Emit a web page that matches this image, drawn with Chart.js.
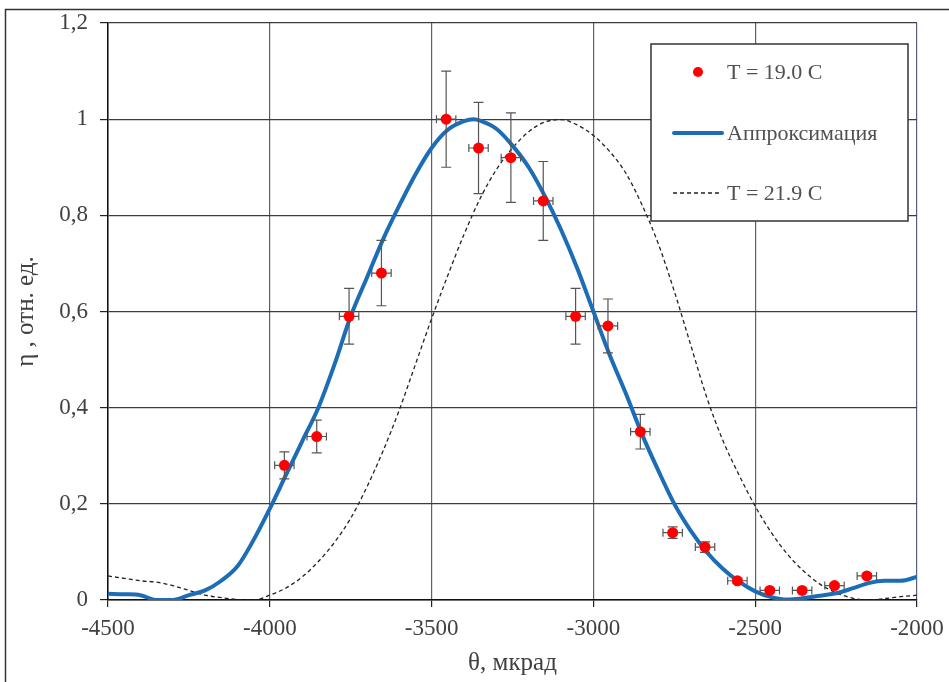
<!DOCTYPE html>
<html>
<head>
<meta charset="utf-8">
<script src="https://cdn.jsdelivr.net/npm/chart.js@4"></script>
<style>
  html, body { margin: 0; padding: 0; background: #fff; }
  #box { position: relative; width: 949px; height: 682px; }
</style>
</head>
<body>
<div id="box"><canvas id="chart"></canvas></div>
<script>
// measured points, T = 19.0 C
const thetaMeas = [-3955, -3855, -3755, -3655, -3455, -3355, -3255, -3155, -3055, -2955,
                   -2855, -2755, -2655, -2555, -2455, -2355, -2255, -2155];
const etaMeas   = [0.28, 0.34, 0.59, 0.68, 1.0, 0.94, 0.92, 0.83, 0.59, 0.57,
                   0.35, 0.14, 0.11, 0.04, 0.02, 0.02, 0.03, 0.05];
const etaErr    = [0.028, 0.034, 0.058, 0.068, 0.1, 0.095, 0.093, 0.082, 0.058, 0.056,
                   0.036, 0.012, 0.011, 0.005, 0.004, 0.004, 0.004, 0.005];
const thetaErr  = 30;

// approximation curve
const thetaFit = [-4500, -4450, -4400, -4350, -4300, -4250, -4200, -4150, -4100, -4050,
                  -4000, -3950, -3900, -3850, -3800, -3750, -3700, -3650, -3600, -3550,
                  -3500, -3450, -3400, -3370, -3350, -3300, -3250, -3200, -3150, -3100,
                  -3050, -3000, -2950, -2900, -2850, -2800, -2750, -2700, -2650, -2600,
                  -2550, -2500, -2450, -2400, -2350, -2300, -2250, -2200, -2150, -2100,
                  -2050, -2000];
const etaFit   = [0.013, 0.012, 0.01, 0.0, 0.0, 0.01, 0.02, 0.04, 0.07, 0.125,
                  0.19, 0.26, 0.33, 0.40, 0.49, 0.59, 0.67, 0.75, 0.82, 0.885,
                  0.94, 0.978, 0.996, 1.0, 0.997, 0.98, 0.945, 0.90, 0.84, 0.77,
                  0.69, 0.60, 0.51, 0.43, 0.345, 0.27, 0.20, 0.145, 0.10, 0.065,
                  0.038, 0.018, 0.006, 0.001, 0.004, 0.009, 0.014, 0.024, 0.035, 0.04,
                  0.04, 0.048];

// T = 21.9 C curve
const thetaHot = [-4500, -4450, -4400, -4350, -4300, -4250, -4200, -4150, -4100, -4050,
                  -4000, -3950, -3900, -3850, -3800, -3750, -3700, -3650, -3600, -3550,
                  -3500, -3450, -3400, -3350, -3300, -3250, -3200, -3150, -3100, -3050,
                  -3000, -2950, -2900, -2850, -2800, -2750, -2700, -2650, -2600, -2550,
                  -2500, -2450, -2400, -2350, -2300, -2250, -2200, -2150, -2100, -2050,
                  -2000];
const etaHot   = [0.05, 0.045, 0.04, 0.037, 0.03, 0.02, 0.01, 0.005, 0.001, 0.0,
                  0.01, 0.025, 0.048, 0.08, 0.12, 0.17, 0.235, 0.31, 0.395, 0.49,
                  0.585, 0.675, 0.76, 0.835, 0.895, 0.94, 0.974, 0.994, 0.999, 0.988,
                  0.966, 0.933, 0.888, 0.822, 0.742, 0.642, 0.532, 0.422, 0.332, 0.26,
                  0.195, 0.14, 0.095, 0.06, 0.033, 0.015, 0.004, 0.0, 0.003, 0.007,
                  0.01];

const legendLabels = ['T = 19.0 C', 'Аппроксимация', 'T = 21.9 C'];

const BLUE = '#1c6db5';
const SERIF = '"Liberation Serif", "Times New Roman", serif';

function pts(xs, ys) { return xs.map((x, i) => ({ x: x, y: ys[i] })); }

// outer frame + legend box
const framePlugin = {
  id: 'frame',
  beforeDraw(chart) {
    const c = chart.ctx;
    c.save();
    c.fillStyle = '#fff';
    c.fillRect(0, 0, chart.width, chart.height);
    c.strokeStyle = '#333';
    c.lineWidth = 1.5;
    c.strokeRect(5.5, 9.5, 1000, 1000);
    c.restore();
  },
  afterDraw(chart) {
    const c = chart.ctx;
    c.save();
    const bx = 651, by = 44, bw = 257, bh = 177;
    c.fillStyle = '#fff';
    c.fillRect(bx, by, bw, bh);
    c.strokeStyle = '#333';
    c.lineWidth = 1.5;
    c.strokeRect(bx, by, bw, bh);
    const rows = [72, 133, 193];
    // red marker
    c.fillStyle = '#ff0000';
    c.beginPath(); c.arc(698, rows[0], 5, 0, Math.PI * 2); c.fill();
    // blue line
    c.strokeStyle = BLUE; c.lineWidth = 4; c.lineCap = 'round';
    c.beginPath(); c.moveTo(674, rows[1]); c.lineTo(722, rows[1]); c.stroke();
    // dashed
    c.strokeStyle = '#222'; c.lineWidth = 1.3; c.lineCap = 'butt'; c.setLineDash([4, 3]);
    c.beginPath(); c.moveTo(673, rows[2]); c.lineTo(721, rows[2]); c.stroke();
    c.setLineDash([]);
    c.fillStyle = '#505050';
    c.font = '22px ' + SERIF;
    c.textBaseline = 'middle';
    legendLabels.forEach((t, i) => c.fillText(t, 727, rows[i] + 1));
    c.restore();
  }
};

// error bars drawn under the red points
const errorPlugin = {
  id: 'errbars',
  beforeDatasetDraw(chart, args) {
    if (args.index !== 0) return;
    const c = chart.ctx, xs = chart.scales.x, ys = chart.scales.y;
    c.save();
    c.strokeStyle = '#555';
    c.lineWidth = 1.2;
    thetaMeas.forEach((t, i) => {
      const px = xs.getPixelForValue(t), py = ys.getPixelForValue(etaMeas[i]);
      const y1 = ys.getPixelForValue(etaMeas[i] - etaErr[i]);
      const y2 = ys.getPixelForValue(etaMeas[i] + etaErr[i]);
      const x1 = xs.getPixelForValue(t - thetaErr), x2 = xs.getPixelForValue(t + thetaErr);
      c.beginPath();
      c.moveTo(px, y1); c.lineTo(px, y2);
      c.moveTo(px - 5, y1); c.lineTo(px + 5, y1);
      c.moveTo(px - 5, y2); c.lineTo(px + 5, y2);
      c.moveTo(x1, py); c.lineTo(x2, py);
      c.moveTo(x1, py - 4); c.lineTo(x1, py + 4);
      c.moveTo(x2, py - 4); c.lineTo(x2, py + 4);
      c.stroke();
    });
    c.restore();
  }
};

new Chart(document.getElementById('chart'), {
  type: 'line',
  data: {
    datasets: [
      { label: legendLabels[0], data: pts(thetaMeas, etaMeas), showLine: false,
        pointRadius: 5.5, pointBackgroundColor: '#ff0000', pointBorderWidth: 0 },
      { label: legendLabels[1], data: pts(thetaFit, etaFit), borderColor: BLUE, borderWidth: 4,
        pointRadius: 0, cubicInterpolationMode: 'monotone' },
      { label: legendLabels[2], data: pts(thetaHot, etaHot), borderColor: '#222', borderWidth: 1.3,
        borderDash: [4, 3], pointRadius: 0, cubicInterpolationMode: 'monotone' },
    ]
  },
  options: {
    responsive: true, maintainAspectRatio: false, animation: false,
    layout: { padding: { top: 23, right: 32, left: 0, bottom: 0 } },
    plugins: { legend: { display: false }, tooltip: { enabled: false } },
    scales: {
      x: {
        type: 'linear', min: -4500, max: -2000,
        afterFit(s) { s.height = 82; s.paddingLeft = 0; s.paddingRight = 0; },
        ticks: { stepSize: 500, color: '#404040', padding: 8, font: { family: SERIF, size: 23 },
                 callback: v => String(v) },
        grid: { color: '#56627c', lineWidth: 1.2, tickLength: 7, tickColor: '#222' },
        border: { color: '#111', width: 1.5 },
        title: { display: true, text: 'θ, мкрад', color: '#404040',
                 font: { family: SERIF, size: 25 }, padding: { top: 0, bottom: 4 } }
      },
      y: {
        min: 0, max: 1.2,
        afterFit(s) { s.width = 108; s.paddingTop = 0; s.paddingBottom = 0; },
        ticks: { stepSize: 0.2, color: '#404040', padding: 12, font: { family: SERIF, size: 23 },
                 callback: v => Math.abs(v - Math.round(v)) < 1e-9 ? String(Math.round(v)) : v.toFixed(1).replace('.', ',') },
        grid: { color: '#3c3c3c', lineWidth: 1.2, tickLength: 8, tickColor: '#222' },
        border: { color: '#111', width: 1.5 },
        title: { display: true, text: 'η , отн. ед.', color: '#404040',
                 font: { family: SERIF, size: 25 }, padding: { top: 11, bottom: 0 } }
      }
    }
  },
  plugins: [framePlugin, errorPlugin]
});
</script>
</body>
</html>
